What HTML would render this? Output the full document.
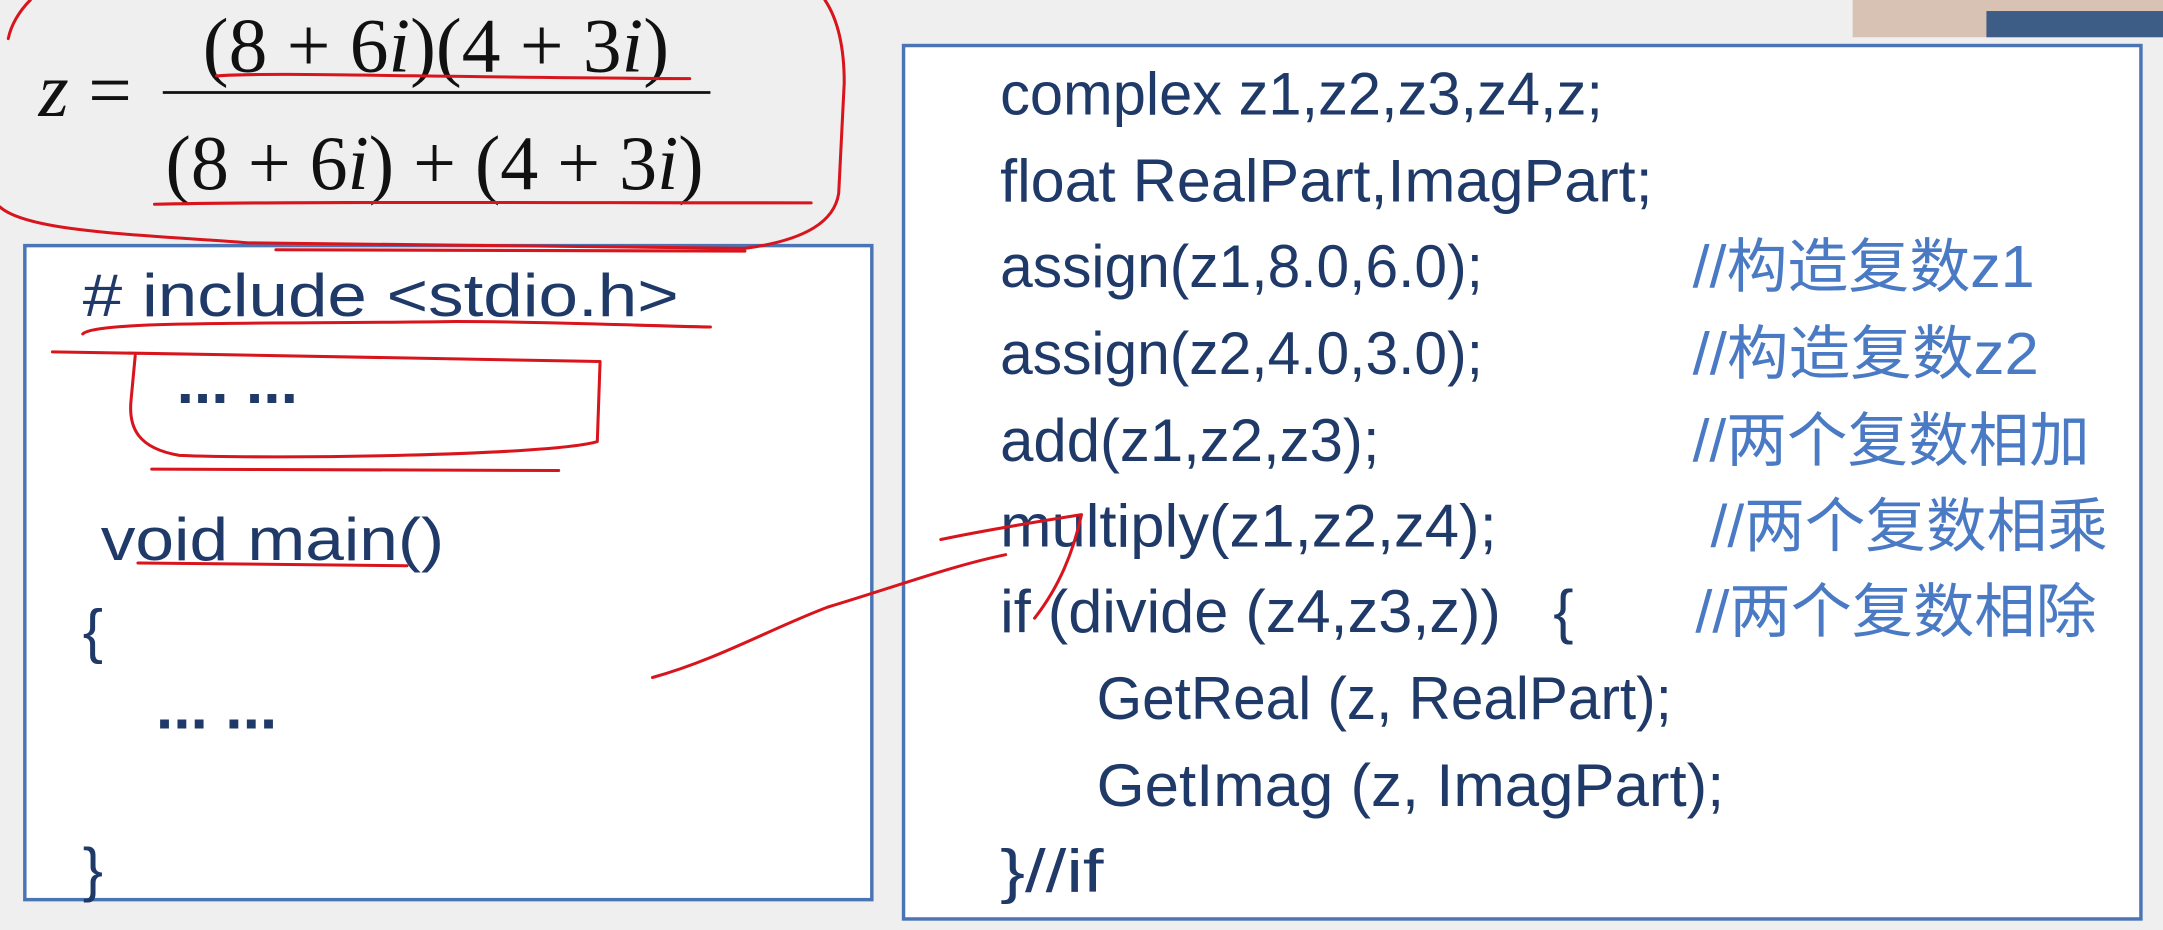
<!DOCTYPE html>
<html><head><meta charset="utf-8"><style>
html,body{margin:0;padding:0;background:#efefef;}
svg{display:block}
.c{font-family:"Liberation Sans","Noto Sans CJK SC",sans-serif;font-size:44px;fill:#1f3a68}
.m{font-family:"Liberation Sans","Noto Sans CJK SC",sans-serif;font-size:43px;fill:#4a7ac4}
.f{font-family:"Liberation Serif",serif;font-size:56px;fill:#111}
.r{fill:none;stroke:#d8141c;stroke-width:2.2;stroke-linecap:round;stroke-linejoin:round}
</style></head><body>
<svg width="2163" height="930" viewBox="0 0 1568 674" preserveAspectRatio="none" xmlns="http://www.w3.org/2000/svg">
<rect width="1568" height="674" fill="#efefef"/>
<rect x="1343" y="0" width="225" height="27" fill="#d8c2b4"/>
<rect x="1440" y="8" width="128" height="19" fill="#3d5c86"/>
<rect x="18" y="178" width="614" height="474" fill="#fff" stroke="#4a74b4" stroke-width="2.5"/>
<rect x="655" y="33" width="897" height="633" fill="#fff" stroke="#4a74b4" stroke-width="2.5"/>

<text class="f" x="28" y="84" font-style="italic">z</text>
<text class="f" x="64" y="84">=</text>
<text class="f" x="147" y="52" textLength="338" lengthAdjust="spacingAndGlyphs">(8 + 6<tspan font-style="italic">i</tspan>)(4 + 3<tspan font-style="italic">i</tspan>)</text>
<line x1="118" y1="67" x2="515" y2="67" stroke="#111" stroke-width="2"/>
<text class="f" x="120" y="137" textLength="390" lengthAdjust="spacingAndGlyphs">(8 + 6<tspan font-style="italic">i</tspan>) + (4 + 3<tspan font-style="italic">i</tspan>)</text>

<text class="c" x="60" y="229" textLength="432" lengthAdjust="spacingAndGlyphs"># include &lt;stdio.h&gt;</text>
<text class="c" x="128" y="292" font-weight="bold" textLength="88" lengthAdjust="spacingAndGlyphs">... ...</text>
<text class="c" x="73" y="406" textLength="249" lengthAdjust="spacingAndGlyphs">void main()</text>
<text class="c" x="60" y="472">{</text>
<text class="c" x="113" y="528" font-weight="bold" textLength="88" lengthAdjust="spacingAndGlyphs">... ...</text>
<text class="c" x="60" y="645">}</text>

<text class="c" x="725" y="83" textLength="437" lengthAdjust="spacingAndGlyphs">complex z1,z2,z3,z4,z;</text>
<text class="c" x="725" y="146" textLength="473" lengthAdjust="spacingAndGlyphs">float RealPart,ImagPart;</text>
<text class="c" x="725" y="208" textLength="350" lengthAdjust="spacingAndGlyphs">assign(z1,8.0,6.0);</text>
<text class="c" x="725" y="271" textLength="350" lengthAdjust="spacingAndGlyphs">assign(z2,4.0,3.0);</text>
<text class="c" x="725" y="334" textLength="275" lengthAdjust="spacingAndGlyphs">add(z1,z2,z3);</text>
<text class="c" x="725" y="396" textLength="360" lengthAdjust="spacingAndGlyphs">multiply(z1,z2,z4);</text>
<text class="c" x="725" y="458" textLength="363" lengthAdjust="spacingAndGlyphs">if (divide (z4,z3,z))</text>
<text class="c" x="1126" y="458">{</text>
<text class="c" x="795" y="521" textLength="417" lengthAdjust="spacingAndGlyphs">GetReal (z, RealPart);</text>
<text class="c" x="795" y="584" textLength="455" lengthAdjust="spacingAndGlyphs">GetImag (z, ImagPart);</text>
<text class="c" x="725" y="646" textLength="75" lengthAdjust="spacingAndGlyphs">}//if</text>

<text class="m" x="1227" y="208" textLength="248" lengthAdjust="spacingAndGlyphs">//构造复数z1</text>
<text class="m" x="1227" y="271" textLength="251" lengthAdjust="spacingAndGlyphs">//构造复数z2</text>
<text class="m" x="1227" y="334" textLength="288" lengthAdjust="spacingAndGlyphs">//两个复数相加</text>
<text class="m" x="1240" y="396" textLength="288" lengthAdjust="spacingAndGlyphs">//两个复数相乘</text>
<text class="m" x="1229" y="458" textLength="291" lengthAdjust="spacingAndGlyphs">//两个复数相除</text>

<path class="r" d="M22,0 C14,8 8,18 6,28"/>
<path class="r" d="M0,150 C20,168 100,170 180,176 L540,180 C585,174 605,160 608,140 L612,60 C612,30 606,12 598,0"/>
<path class="r" d="M157,55 C200,52 300,56 500,57"/>
<path class="r" d="M112,148 C200,146 400,147 588,147"/>
<path class="r" d="M200,181 L540,182"/>
<path class="r" d="M60,242 C70,232 200,235 330,233 C400,233 460,236 515,237"/>
<path class="r" d="M38,255 L160,257 L435,262 L433,320 C400,330 200,333 130,330 C100,325 93,310 95,290 L98,258"/>
<path class="r" d="M110,340 L405,341"/>
<path class="r" d="M100,408 L295,410"/>
<path class="r" d="M473,491 C520,478 560,455 600,440 C650,425 690,410 729,402"/>
<path class="r" d="M682,391 C710,385 740,380 784,373 C778,400 768,425 750,448"/>
</svg>
</body></html>
